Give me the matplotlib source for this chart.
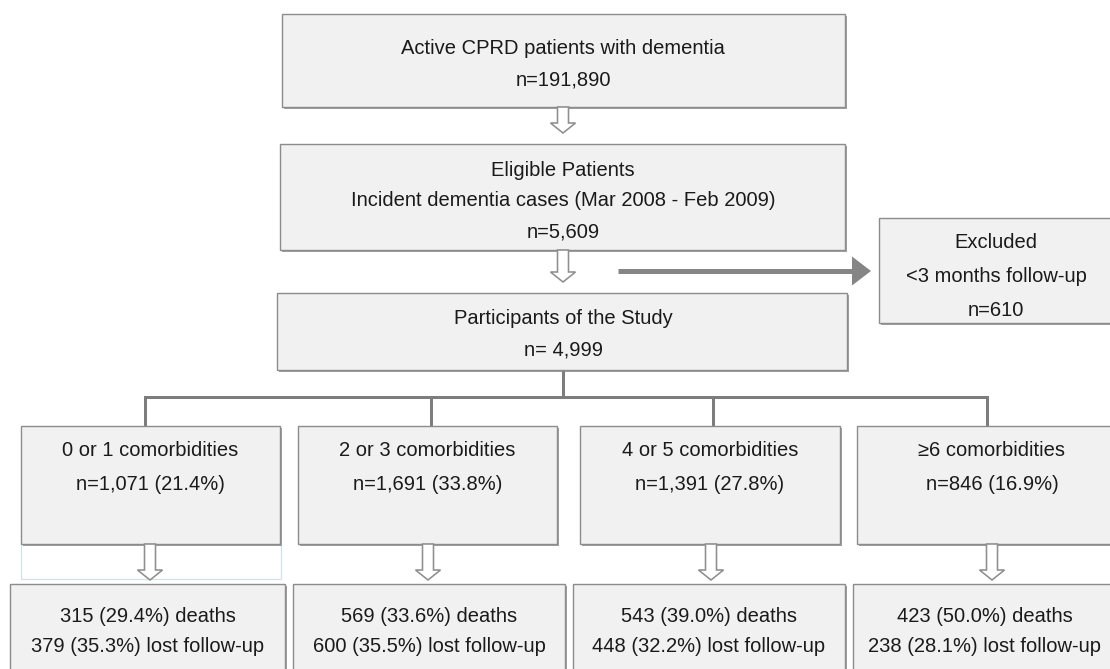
import matplotlib
matplotlib.use("Agg")
import matplotlib.pyplot as plt
from matplotlib.patches import Rectangle, Polygon

plt.rcParams['font.family'] = ['Liberation Sans', 'DejaVu Sans']

# texts of the flow chart
top_text = ["Active CPRD patients with dementia", "n=191,890"]
eligible_text = ["Eligible Patients", "Incident dementia cases (Mar 2008 - Feb 2009)", "n=5,609"]
excluded_text = ["Excluded", "<3 months follow-up", "n=610"]
study_text = ["Participants of the Study", "n= 4,999"]
groups = ["0 or 1 comorbidities", "2 or 3 comorbidities", "4 or 5 comorbidities", "\u22656 comorbidities"]
group_n = ["n=1,071 (21.4%)", "n=1,691 (33.8%)", "n=1,391 (27.8%)", "n=846 (16.9%)"]
deaths = ["315 (29.4%) deaths", "569 (33.6%) deaths", "543 (39.0%) deaths", "423 (50.0%) deaths"]
lost = ["379 (35.3%) lost follow-up", "600 (35.5%) lost follow-up",
        "448 (32.2%) lost follow-up", "238 (28.1%) lost follow-up"]

W, H = 1110, 669
fig = plt.figure(figsize=(W / 100, H / 100), dpi=100)
ax = fig.add_axes([0, 0, 1, 1])
ax.set_xlim(0, W)
ax.set_ylim(H, 0)
ax.axis('off')

px = 0.72  # one pixel in points
edge = '#8c8c8c'
fill = '#f1f1f1'
line_col = '#7d7d7d'
txt_col = '#1a1a1a'
fs = 14.5


def box(x0, y0, x1, y1):
    ax.add_patch(Rectangle((x0 + 1.5, y0 + 1.5), x1 - x0, y1 - y0, facecolor='#a0a0a0',
                           edgecolor='none', zorder=1))
    ax.add_patch(Rectangle((x0, y0), x1 - x0, y1 - y0, facecolor=fill,
                           edgecolor=edge, lw=1.4 * px, zorder=2))


def lines(xc, ys, texts):
    for y, t in zip(ys, texts):
        ax.text(xc, y, t, ha='center', va='center', fontsize=fs, color=txt_col, zorder=5)


def hollow_arrow(xc, y0, y1, hw=5.5, hh=12.5, hl=10):
    yh = y1 - hl
    pts = [(xc - hw, y0), (xc + hw, y0), (xc + hw, yh), (xc + hh, yh), (xc, y1),
           (xc - hh, yh), (xc - hw, yh)]
    ax.add_patch(Polygon(pts, closed=True, facecolor='white', edgecolor='#8f8f8f',
                         lw=1.6 * px, zorder=3, joinstyle='miter'))


# top column
box(282, 14, 845, 107)
lines(563, [48, 80], top_text)
hollow_arrow(563, 107, 133)

box(280, 144, 845, 250)
lines(563, [170, 201, 232], eligible_text)
hollow_arrow(563, 250, 282)

box(277, 293, 847, 370)
lines(563, [318, 350], study_text)

# exclusion arrow and box
ax.plot([618, 853], [271, 271], color='#858585', lw=5 * px, solid_capstyle='butt', zorder=3)
ax.add_patch(Polygon([(852, 256.5), (871, 271), (852, 285.5)], closed=True,
                     facecolor='#858585', edgecolor='none', zorder=3))
box(879, 218, 1125, 323)
lines(996, [242, 277, 310], excluded_text)

# connector
drops = [145, 431, 713, 987]
ax.plot([563, 563], [370, 397], color=line_col, lw=3 * px, zorder=1)
ax.plot([drops[0], drops[-1]], [397, 397], color=line_col, lw=3 * px,
        solid_capstyle='projecting', zorder=1)
for xd in drops:
    ax.plot([xd, xd], [397, 426], color=line_col, lw=3 * px, zorder=1)

# group boxes
grp_x = [(21, 280), (298, 557), (580, 840), (857, 1125)]
out_x = [(10, 285), (293, 565), (573, 845), (853, 1125)]
arrow_x = [150, 428, 711, 992]

# faint outline under the first group box
ax.add_patch(Rectangle((21, 544), 260, 35, facecolor='none', edgecolor='#cfe0ee',
                       lw=1.2 * px, zorder=1))

for i in range(4):
    gx0, gx1 = grp_x[i]
    box(gx0, 426, gx1, 544)
    xc = (gx0 + min(gx1, W)) / 2 if i < 3 else 992
    lines(xc, [451, 484], [groups[i], group_n[i]])
    hollow_arrow(arrow_x[i], 544, 580)
    ox0, ox1 = out_x[i]
    box(ox0, 584, ox1, 690)
    xo = (ox0 + ox1) / 2 if i < 3 else 985
    lines(xo, [616, 647], [deaths[i], lost[i]])

fig.savefig('out.png', dpi=100, facecolor='white')
